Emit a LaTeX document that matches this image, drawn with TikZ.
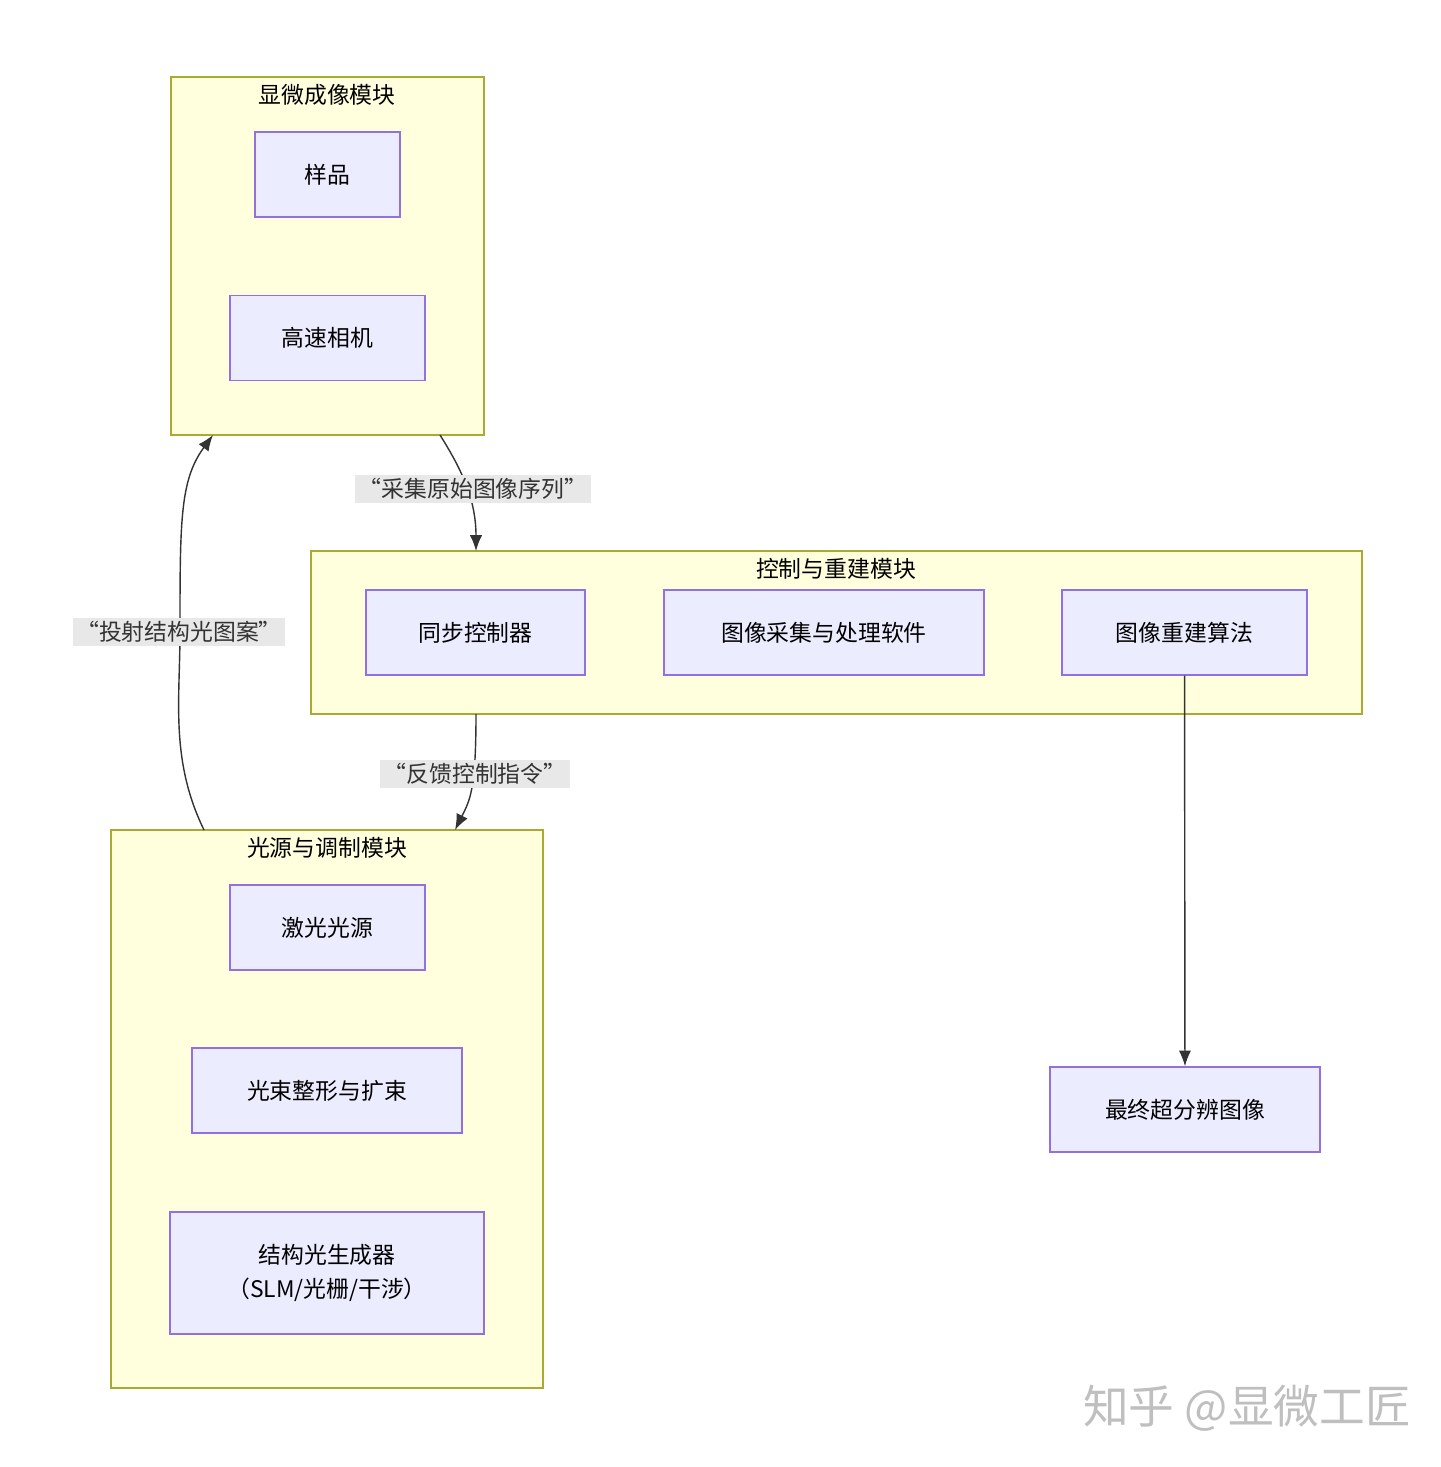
\documentclass[tikz,border=0pt]{standalone}
\usepackage{fontspec}
\setmainfont{Noto Sans CJK SC}
\usetikzlibrary{arrows.meta,positioning}
\definecolor{clfill}{HTML}{FFFFDE}
\definecolor{cldraw}{HTML}{AAAA33}
\definecolor{ndfill}{HTML}{ECECFF}
\definecolor{nddraw}{HTML}{9370DB}
\definecolor{lbfill}{HTML}{E8E8E8}
\definecolor{edge}{HTML}{333333}
\tikzset{
  cluster/.style={draw=cldraw, fill=clfill, line width=0.8pt, inner sep=0pt},
  box/.style={draw=nddraw, fill=ndfill, line width=0.8pt, inner sep=0pt, align=center},
  lbl/.style={fill=lbfill, inner sep=2pt, text=edge},
  link/.style={draw=edge, line width=0.8pt, -{Latex[length=9pt,width=7pt]}}
}
\begin{document}
\begin{tikzpicture}[x=0.02cm, y=-0.02cm, font=\fontsize{13}{19}\selectfont]
  \useasboundingbox (0,0) rectangle (1440,1467);
  % clusters
  \draw[cluster] (171,77) rectangle (484,435);
  \draw[cluster] (311,551) rectangle (1362,714);
  \draw[cluster] (111,830) rectangle (543,1388);
  \node (t1) at (327,95) {显微成像模块};
  \node (t2) at (836,569) {控制与重建模块};
  \node (t3) at (327,848) {光源与调制模块};
  % nodes
  \node[box, minimum width=2.9cm, minimum height=1.7cm] (sample) at (327.5,174.5) {样品};
  \node[box, minimum width=3.9cm, minimum height=1.7cm] (camera) at (327.5,338) {高速相机};
  \node[box, minimum width=4.38cm, minimum height=1.7cm] (sync) at (475.5,632.5) {同步控制器};
  \node[box, minimum width=6.4cm, minimum height=1.7cm] (soft) at (824,632.5) {图像采集与处理软件};
  \node[box, minimum width=4.9cm, minimum height=1.7cm] (algo) at (1184.5,632.5) {图像重建算法};
  \node[box, minimum width=3.9cm, minimum height=1.7cm] (laser) at (327.5,927.5) {激光光源};
  \node[box, minimum width=5.4cm, minimum height=1.7cm] (shape) at (327,1090.5) {光束整形与扩束};
  \node[box, minimum width=6.28cm, minimum height=2.44cm] (slm) at (327,1273) {结构光生成器\\（SLM/光栅/干涉）};
  \node[box, minimum width=5.4cm, minimum height=1.7cm] (final) at (1185,1109.5) {最终超分辨图像};
  % connectors
  \coordinate (c1out) at (440,435);
  \coordinate (c2in) at (476,551);
  \coordinate (c2out) at (476,714);
  \coordinate (c3in) at (455,830);
  \coordinate (c3out) at (204,830);
  \coordinate (c1in) at (213,435);
  \draw[link] (c1out) .. controls (462,470) and (476,500) .. (c2in);
  \node[lbl] at (473,489) {“采集原始图像序列”};
  \draw[link] (c2out) .. controls (476,790) and (470,800) .. (c3in);
  \node[lbl] at (475,774) {“反馈控制指令”};
  \draw[link] (c3out) .. controls (170,760) and (180,700) .. (180,632) .. controls (180,520) and (180,480) .. (c1in);
  \node[lbl] at (179,632) {“投射结构光图案”};
  \draw[link] (algo) -- (final);
  % watermark
  \node[text=black!25, font=\fontsize{26}{30}\selectfont] at (1247,1408) {知乎 @显微工匠};
\end{tikzpicture}
\end{document}
